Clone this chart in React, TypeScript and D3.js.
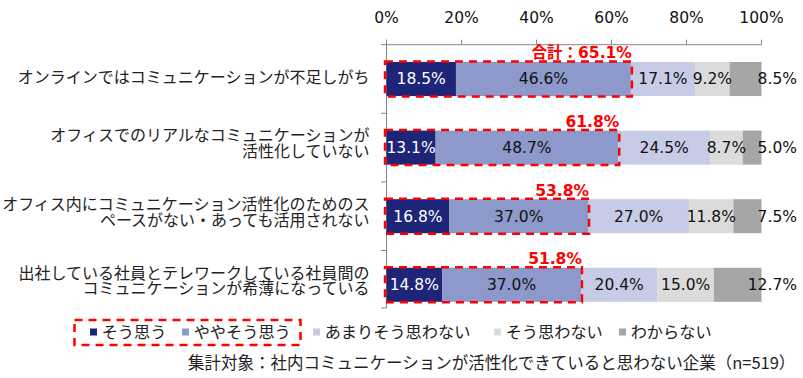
import React from "react";
import * as d3 from "d3";

const categories: string[][] = [
  ["オンラインではコミュニケーションが不足しがち"],
  ["オフィスでのリアルなコミュニケーションが", "活性化していない"],
  ["オフィス内にコミュニケーション活性化のためのス", "ペースがない・あっても活用されない"],
  ["出社している社員とテレワークしている社員間の", "コミュニケーションが希薄になっている"],
];

const seriesNames = ["そう思う", "ややそう思う", "あまりそう思わない", "そう思わない", "わからない"];
const soOmou = [18.5, 13.1, 16.8, 14.8];
const yayaSoOmou = [46.6, 48.7, 37.0, 37.0];
const amariSoOmowanai = [17.1, 24.5, 27.0, 20.4];
const soOmowanai = [9.2, 8.7, 11.8, 15.0];
const wakaranai = [8.5, 5.0, 7.5, 12.7];
const totals = [65.1, 61.8, 53.8, 51.8];
const totalPrefix = "合計：";
const tickValues = [0, 20, 40, 60, 80, 100];
const footnote = "集計対象：社内コミュニケーションが活性化できていると思わない企業（n=519）";

const colors = ["#1E2478", "#8D99CB", "#C6CBE6", "#DBDBDB", "#A6A6A6"];
const labelColors = ["#FFFFFF", "#111111", "#111111", "#111111", "#111111"];

const W = 803;
const H = 378;
const NUM_FONT = "'DejaVu Sans', 'Noto Sans CJK JP', sans-serif";
const JP_FONT = "'Noto Sans CJK JP', 'Noto Sans', sans-serif";

export default function App() {
  const series = [soOmou, yayaSoOmou, amariSoOmowanai, soOmowanai, wakaranai];
  const x = d3.scaleLinear().domain([0, 100]).range([386.5, 761.5]);
  const axisY = 44.7;
  const y = d3
    .scaleBand<number>()
    .domain(d3.range(categories.length))
    .range([axisY, axisY + 68.6 * categories.length])
    .paddingInner(0.504)
    .paddingOuter(0.252);
  const bw = y.bandwidth();
  const step = y.step();

  const rows = categories.map((_, i) => {
    const vals = series.map((s) => s[i]);
    const sum = d3.sum(vals);
    let acc = 0;
    return vals.map((v, k) => {
      const start = (acc / sum) * 100;
      acc += v;
      const end = (acc / sum) * 100;
      return { v, k, start, end };
    });
  });

  const axisColor = "#858585";
  const legendMarkerX = [90, 182, 313, 494, 619];
  const legendY = 332;

  return (
    <svg width={W} height={H} style={{ position: "absolute", left: 0, top: 0, background: "#fff" }}>
      {/* top axis */}
      <line x1={x(0) - 5.5} x2={x(100)} y1={axisY} y2={axisY} stroke={axisColor} strokeWidth={1} />
      {tickValues.map((t) => (
        <g key={t}>
          <line x1={x(t)} x2={x(t)} y1={axisY} y2={axisY - 5} stroke={axisColor} strokeWidth={1} />
          <text x={x(t)} y={18} dy="0.35em" textAnchor="middle" fontFamily={NUM_FONT} fontSize={15.5} fill="#111">
            {t}%
          </text>
        </g>
      ))}
      {/* left axis */}
      <line x1={x(0)} x2={x(0)} y1={axisY - 5} y2={308} stroke={axisColor} strokeWidth={1} />
      {d3.range(1, categories.length).map((i) => (
        <line key={i} x1={x(0) - 5.5} x2={x(0)} y1={axisY + step * i} y2={axisY + step * i} stroke={axisColor} strokeWidth={1} />
      ))}
      <line x1={x(0) - 5.5} x2={x(0)} y1={308} y2={308} stroke={axisColor} strokeWidth={1} />

      {/* category labels */}
      {categories.map((lines, i) => {
        const cy = (y(i) as number) + bw / 2;
        const lh = 15.5;
        const off = lines.length > 1 ? -4 : -2;
        return (
          <text key={i} textAnchor="end" fontFamily={JP_FONT} fontSize={16} fill="#222">
            {lines.map((l, j) => (
              <tspan key={j} x={369.5} y={cy + off + (j - (lines.length - 1) / 2) * lh} dy="0.35em">
                {l}
              </tspan>
            ))}
          </text>
        );
      })}

      {/* bars */}
      {rows.map((segs, i) => {
        const top = y(i) as number;
        const cy = top + bw / 2;
        return (
          <g key={i}>
            {segs.map((s) => (
              <rect key={s.k} x={x(s.start)} y={top} width={x(s.end) - x(s.start)} height={bw} fill={colors[s.k]} />
            ))}
            {segs.map((s) => {
              const last = s.k === segs.length - 1;
              return (
                <text
                  key={"l" + s.k}
                  x={last ? x(100) + 35.5 : (x(s.start) + x(s.end)) / 2}
                  y={cy}
                  dy="0.35em"
                  textAnchor={last ? "end" : "middle"}
                  fontFamily={NUM_FONT}
                  fontSize={15.5}
                  fill={labelColors[s.k]}
                >
                  {s.v.toFixed(1)}%
                </text>
              );
            })}
            <rect
              x={x(0) - 1.5}
              y={top - 0.5}
              width={x(segs[1].end) + 1 - (x(0) - 1.5)}
              height={bw + 1}
              fill="none"
              stroke="#FF0000"
              strokeWidth={2.5}
              strokeDasharray="8,6"
            />
            <text
              x={x(segs[1].end) + 1}
              y={top - 9}
              dy="0.35em"
              textAnchor="end"
              fontFamily={NUM_FONT}
              fontSize={15.5}
              fontWeight="bold"
              fill="#FF0000"
            >
              {(i === 0 ? totalPrefix : "") + totals[i].toFixed(1) + "%"}
            </text>
          </g>
        );
      })}

      {/* legend */}
      <rect x={74.5} y={320} width={226} height={25} fill="none" stroke="#FF0000" strokeWidth={2.5} strokeDasharray="8,6" />
      {seriesNames.map((n, k) => (
        <g key={k}>
          <rect x={legendMarkerX[k]} y={legendY - 3.5} width={7} height={7} fill={colors[k]} />
          <text x={legendMarkerX[k] + 11.7} y={legendY} dy="0.35em" fontFamily={JP_FONT} fontSize={16.2} fill="#222">
            {n}
          </text>
        </g>
      ))}

      <text x={188} y={363} dy="0.35em" fontFamily={JP_FONT} fontSize={16.5} fill="#222">
        {footnote}
      </text>
    </svg>
  );
}
